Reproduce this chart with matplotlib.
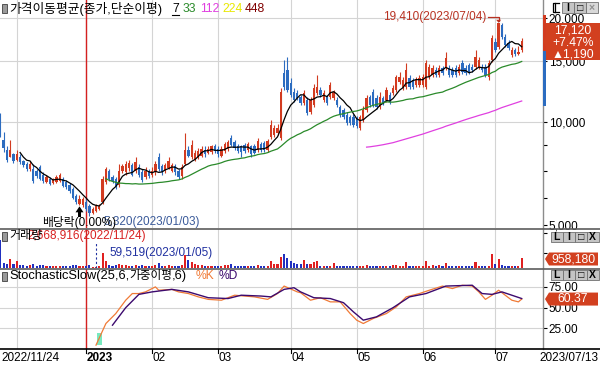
import numpy as np
import pandas as pd
import matplotlib
matplotlib.use('Agg')
import matplotlib.pyplot as plt
from matplotlib.patches import Rectangle, Polygon
from matplotlib.lines import Line2D
from matplotlib.ticker import FixedLocator, NullFormatter, FuncFormatter

plt.rcParams['font.family'] = ['Liberation Sans', 'Noto Sans CJK KR', 'DejaVu Sans']

# ---------------- data ----------------
opens = [
    9930, 8870, 8300, 7920, 8030, 7760, 7920, 7660, 7510, 7260,
    7260, 7170, 7360, 7020, 6660, 6790, 6620, 6660, 6700, 6790,
    6660, 6530, 6360, 6070, 5750, 5710, 5830, 5680, 5420, 5490,
    5560, 5830, 6660, 7170, 6890, 6790, 6530, 7170, 7120, 7310,
    7460, 7170, 7360, 7120, 6890, 7170, 6980, 7120, 7870, 7410,
    7170, 7310, 7210, 7410, 7170, 6930, 7510, 8300, 7920, 7760,
    7920, 7970, 8300, 8130, 8190, 8520, 8350, 7970, 8240, 8350,
    8990, 8750, 8520, 8470, 8580, 8300, 8470, 8520, 8300, 8640,
    8690, 8300, 9050, 9170, 9290, 8990, 13860, 14140, 12970, 12210,
    12130, 11810, 11350, 11580, 10690, 11200, 12130, 12380, 11580, 11810,
    11810, 11730, 11580, 11050, 10830, 10480, 10340, 10340, 10270, 9610,
    10130, 10830, 11810, 12210, 11730, 11050, 11730, 11580, 11970, 12130,
    12380, 13060, 12540, 12630, 13410, 13230, 12800, 12800, 12800, 12630,
    13500, 13680, 14140, 13680, 14330, 14330, 14330, 14140, 14330, 13860,
    14820, 14330, 14620, 14430, 14430, 14430, 14430, 14430, 13500, 15120,
    17050, 16490, 19080, 17620, 16940, 15640, 16170, 15750, 16170]
highs = [
    10620, 9350, 8470, 8870, 8130, 8300, 8030, 7760, 7610, 7660,
    7510, 7260, 7460, 7120, 6980, 6890, 6840, 6980, 7070, 6890,
    6750, 6620, 6440, 6150, 6110, 6030, 5950, 5750, 5640, 5750,
    5750, 6930, 7360, 7260, 7020, 6890, 7510, 7510, 7660, 7760,
    7560, 7870, 7510, 7260, 7360, 7260, 7360, 7660, 8130, 7510,
    7560, 7870, 7560, 7510, 7260, 7510, 9290, 8520, 8870, 8300,
    8410, 8520, 8470, 8470, 8580, 8640, 8470, 8470, 8750, 8870,
    9170, 8870, 8640, 8580, 8690, 8750, 8580, 8640, 8990, 8750,
    8810, 8930, 10130, 9800, 9870, 12540, 15120, 15440, 13410, 12540,
    12380, 11970, 12380, 11810, 11810, 12880, 13680, 12630, 12380, 11970,
    13060, 12380, 11810, 11200, 10980, 10690, 10480, 10550, 10410, 10480,
    11130, 11970, 11970, 12460, 11970, 12210, 11890, 12630, 12210, 12800,
    13680, 13950, 13500, 14820, 13680, 13410, 13500, 13680, 13770, 15120,
    14720, 14620, 14430, 14620, 14520, 15960, 14620, 14430, 14620, 14720,
    15120, 14620, 14820, 14720, 16170, 15440, 14720, 14720, 15120, 17860,
    17510, 19410, 19340, 17970, 17280, 16490, 16380, 16600, 17510]
lows = [
    9050, 8190, 7610, 7870, 7560, 7660, 7510, 7360, 7170, 7210,
    6620, 6840, 6750, 6620, 6620, 6530, 6570, 6620, 6660, 6440,
    6360, 6190, 5950, 5750, 5710, 5640, 5490, 5320, 5380, 5450,
    5530, 5750, 6570, 6700, 6620, 6360, 6440, 7070, 7020, 7210,
    6930, 7070, 6890, 6660, 6790, 6840, 6890, 7020, 7170, 7020,
    7070, 7260, 7120, 7020, 6790, 6790, 7460, 7870, 7810, 7660,
    7810, 7870, 7920, 8030, 8080, 8130, 7920, 7870, 8130, 8240,
    8470, 8300, 8130, 7870, 8130, 8190, 7920, 8030, 8190, 8190,
    8190, 8190, 8930, 9050, 9170, 8870, 12380, 12210, 11810, 11420,
    11580, 11200, 11200, 10480, 10550, 11050, 11970, 11810, 11420, 11200,
    11650, 11580, 11050, 10340, 10200, 9800, 9800, 9670, 9610, 9480,
    10000, 10690, 11050, 11050, 10900, 10900, 11200, 11420, 11270, 11970,
    12210, 12880, 12380, 12460, 12460, 12460, 12630, 12630, 12630, 12460,
    13320, 13500, 13500, 13500, 13680, 14140, 13500, 13500, 13500, 13680,
    13770, 13680, 13770, 13950, 14240, 14240, 13950, 13500, 13230, 14920,
    15960, 16280, 17390, 16490, 16170, 15440, 15540, 15640, 15960]
closes = [
    9170, 8410, 7760, 8300, 7660, 8030, 7610, 7460, 7260, 7510,
    6700, 6930, 6790, 6700, 6890, 6570, 6790, 6890, 6980, 6490,
    6440, 6270, 5990, 5830, 5950, 5950, 5560, 5420, 5560, 5680,
    5680, 6790, 7260, 6790, 6700, 6440, 7170, 7410, 7510, 7560,
    7020, 7610, 6980, 6750, 7210, 6930, 7210, 7510, 7260, 7120,
    7460, 7660, 7460, 7120, 6890, 7360, 8300, 7970, 8580, 8130,
    8240, 8350, 8030, 8350, 8470, 8240, 8030, 8350, 8640, 8750,
    8580, 8410, 8240, 8190, 8240, 8640, 8030, 8130, 8810, 8300,
    8300, 8810, 9800, 9610, 9610, 12210, 12630, 12380, 11970, 11580,
    11730, 11350, 12130, 10620, 11580, 12540, 12630, 11970, 12130, 11350,
    12800, 12210, 11200, 10480, 10340, 9930, 9930, 9800, 9740, 10340,
    10830, 11730, 11200, 11200, 11050, 11810, 11350, 12380, 11420, 12540,
    13500, 13500, 13230, 14140, 12630, 12630, 13230, 13410, 13500, 14820,
    14430, 14330, 13680, 14330, 13860, 15340, 13680, 13680, 13680, 14430,
    13950, 13860, 13950, 14140, 15440, 15120, 14140, 13680, 14820, 17510,
    16170, 19340, 17620, 16710, 16380, 16170, 15750, 15930, 17120]
volumes = [
    2668916, 500000, 420000, 900000, 350000, 700000, 300000, 250000, 200000, 260000,
    380000, 220000, 300000, 250000, 180000, 160000, 170000, 190000, 200000, 220000,
    200000, 230000, 300000, 250000, 200000, 180000, 220000, 260000, 120000, 59519,
    150000, 1450000, 700000, 300000, 200000, 250000, 350000, 280000, 320000, 220000,
    200000, 300000, 220000, 250000, 200000, 160000, 180000, 300000, 450000, 200000,
    180000, 250000, 180000, 150000, 170000, 300000, 1200000, 800000, 600000, 350000,
    250000, 300000, 220000, 180000, 200000, 170000, 160000, 200000, 250000, 260000,
    400000, 220000, 180000, 200000, 150000, 180000, 200000, 150000, 250000, 180000,
    160000, 220000, 700000, 400000, 350000, 1100000, 1300000, 1000000, 700000, 500000,
    400000, 350000, 750000, 350000, 400000, 550000, 650000, 200000, 200000, 180000,
    200000, 450000, 150000, 150000, 150000, 220000, 150000, 150000, 150000, 180000,
    150000, 300000, 150000, 150000, 150000, 160000, 150000, 170000, 150000, 280000,
    280000, 180000, 150000, 600000, 150000, 150000, 150000, 160000, 150000, 700000,
    200000, 300000, 150000, 300000, 150000, 450000, 150000, 150000, 150000, 150000,
    150000, 150000, 150000, 150000, 550000, 200000, 180000, 150000, 200000, 1300000,
    400000, 900000, 300000, 150000, 150000, 150000, 150000, 150000, 958180]

first_date = '2022/11/24'
last_date = '2023/07/13'
hi_date = '2023/07/04'
lo_date = '2023/01/03'
vmax_date = '2022/11/24'
vmin_date = '2023/01/05'
div_idx = 24
div_text = '배당락(0.00%)'

# Stochastic Slow (25,6,weighted,6) values
k_idx = [29, 32, 35, 38, 40, 42, 44, 47, 48, 52, 54, 57, 60, 63, 67, 71, 77, 81, 84, 86,
         90, 91, 94, 97, 100, 103, 106, 108, 110, 113, 117, 120, 123, 127, 130, 134, 137,
         140, 143, 145, 147, 149, 151, 155, 157, 158]
k_vals = [5, 31, 43, 59, 67, 67, 69, 75, 71, 72, 69, 67, 63, 60, 59, 65, 63, 60, 67, 76,
          69, 68, 59, 62, 57, 57, 43, 35, 31, 37, 43, 51, 63, 67, 71, 76, 73,
          77, 76, 69, 60, 65, 71, 59, 57, 60.37]
d_idx = [34, 38, 42, 46, 52, 57, 63, 69, 73, 79, 82, 86, 89, 91, 95, 100, 104, 107, 110,
         114, 119, 124, 129, 135, 143, 146, 149, 152, 158]
d_vals = [29, 50, 66, 69, 72, 69, 62, 61, 65, 64, 63, 72, 74, 69, 62, 61, 56, 45, 35,
          39, 50, 63, 67, 76, 77, 67, 66, 69, 61]

month_idx = [5, 26, 46, 66, 88, 108, 128, 150]
month_labels = ['', '2023', '02', '03', '04', '05', '06', '07']
year_idx = 26
ma_periods = [7, 33, 112, 224, 448]
ma_colors = ['#000000', '#2a8a2a', '#e040e0', '#e8e800', '#800000']
price_ticks = [5000, 10000, 15000, 20000]
price_minor = [5990, 7170, 8580]
stoch_ticks = [25, 50, 75]

# ---------------- figure ----------------
W, H = 600, 366
fig = plt.figure(figsize=(W / 100, H / 100), dpi=100)
fig.patch.set_facecolor('white')


def add_ax(x0, y0, x1, y1, **kw):
    return fig.add_axes([x0 / W, 1 - y1 / H, (x1 - x0) / W, (y1 - y0) / H], **kw)


ax = add_ax(0, 0, 543, 228)
axv = add_ax(0, 229, 543, 268)
axs = add_ax(0, 269, 543, 349)
ov = add_ax(0, 0, 600, 366, zorder=10)
ov.set_xlim(0, W)
ov.set_ylim(H, 0)
ov.axis('off')
ov.patch.set_alpha(0)

n = len(closes)
assert all(len(a) == n for a in (opens, highs, lows, volumes))
idx = np.arange(n)
O = np.array(opens, float)
Hh = np.array(highs, float)
L = np.array(lows, float)
C = np.array(closes, float)
V = np.array(volumes, float)
up = C >= O

RED = '#d23b20'
BLUE = '#2c6cc0'
GRID = '#d4d4d4'
XMIN, XMAX = -0.09, 164.45

for a in (ax, axv, axs):
    a.set_xlim(XMIN, XMAX)
    a.set_facecolor('white')
    for s in ('top', 'left', 'bottom'):
        a.spines[s].set_visible(False)
    a.spines['right'].set_color('#8c8c8c')
    a.spines['right'].set_linewidth(1.0)
    a.tick_params(axis='x', which='both', bottom=False, labelbottom=False)
    a.yaxis.tick_right()
    a.tick_params(axis='y', which='both', direction='out', length=3, width=0.8,
                  pad=1, labelsize=8.5, colors='black')
    for m in month_idx:
        a.axvline(m, color=GRID, lw=0.8, zorder=0)
    a.axvline(year_idx, color='#d42020', lw=1.0, zorder=1)

# ---- price panel ----
ax.set_yscale('log')
ax.set_ylim(4905, 22610)
ax.yaxis.set_major_locator(FixedLocator(price_ticks))
ax.yaxis.set_major_formatter(FuncFormatter(lambda v, p: f'{int(round(v)):,}'))
ax.yaxis.set_minor_locator(FixedLocator(price_minor))
ax.yaxis.set_minor_formatter(NullFormatter())
for t in price_ticks[1:]:
    ax.axhline(t, color=GRID, lw=0.8, zorder=0)

cols = np.where(up, RED, BLUE)
ax.vlines(idx, L, Hh, colors=cols, lw=0.8, zorder=3)
ax.bar(idx, np.abs(C - O), bottom=np.minimum(O, C), width=0.72, color=cols,
       lw=0, zorder=4)

cs = pd.Series(C)
for p, col in zip(ma_periods, ma_colors):
    ma = cs.rolling(p).mean()
    ax.plot(idx, ma, color=col, lw=0.9, zorder=5)

# ---- volume panel ----
axv.set_ylim(0, 3.74e6)
axv.yaxis.set_major_locator(FixedLocator([1.44e6, 3.36e6]))
axv.yaxis.set_major_formatter(NullFormatter())
vcols = np.where(up, '#e02020', '#2030c0')
axv.bar(idx, V, width=0.62, color=vcols, lw=0, zorder=3)
vmin_i = int(np.argmin(V))
vmax_i = int(np.argmax(V))
axv.vlines(vmin_i, 0, 2.4e6, colors='#2030a0', lw=0.8, linestyles=(0, (2, 2)), zorder=4)

# ---- stochastic panel ----
axs.set_ylim(0.36, 96.5)
axs.yaxis.set_major_locator(FixedLocator(stoch_ticks))
axs.yaxis.set_major_formatter(FuncFormatter(lambda v, p: f'{v:.2f}'))
for t in stoch_ticks:
    axs.axhline(t, color=GRID, lw=0.8, zorder=0)
axs.add_patch(Rectangle((k_idx[0] + 0.2, 5), 1.6, 14, color='#78eac0', lw=0, zorder=2))
axs.plot(k_idx, k_vals, color='#f07a36', lw=0.9, zorder=4)
axs.plot(d_idx, d_vals, color='#3c0a6e', lw=1.0, zorder=5)

# ---- separators ----
for yy, col, lw in ((228.5, '#5c5c5c', 1.2), (268.5, '#5c5c5c', 1.2), (349, '#000000', 1.2)):
    ov.add_line(Line2D([0, 600], [yy, yy], color=col, lw=lw))


def data_px(a, x, y):
    d = a.transData.transform((x, y))
    return d[0], H - d[1]


renderer = fig.canvas.get_renderer()


def chain(x, y, parts):
    """Draw text segments one after another; parts = [(text, size, color)]."""
    for s, size, col in parts:
        t = ov.text(x, y, s, fontsize=size, va='center', ha='left', color=col)
        bb = t.get_window_extent(renderer)
        x = bb.x1
    return x


# ---- header texts ----
def icon(y):
    ov.add_patch(Rectangle((2, y - 4.5), 5, 9, facecolor='#9a9a9a', edgecolor='#404040', lw=0.6))


icon(8.5)
ov.text(9, 8.5, '가격이동평균(종가,단순이평)', fontsize=9.2, va='center', ha='left')
xs = [172, 183, 200, 222, 245]
for xx, p, col in zip(xs, ma_periods, ma_colors):
    ov.text(xx, 8.5, str(p), fontsize=8.7, va='center', ha='left', color=col)
ov.add_line(Line2D([172, 179], [14.5, 14.5], color='black', lw=0.8))

icon(236.5)
ov.text(27, 236.5, f'{volumes[vmax_i]:,}({vmax_date})', fontsize=8.5, va='center',
        ha='left', color='#d82020')
ov.text(9, 236.5, '거래량', fontsize=8.7, va='center', ha='left', color='black')
ov.text(109, 253, f'{volumes[vmin_i]:,}({vmin_date})', fontsize=8.5, va='center',
        ha='left', color='#2030a0')

icon(276)
chain(9, 276, [('StochasticSlow(25,6,', 9.3, 'black'), ('가중이평', 8.4, 'black'),
               (',6)', 9.3, 'black')])
ov.text(196, 276, '%K', fontsize=8.7, va='center', ha='left', color='#f07a36')
ov.text(219, 276, '%D', fontsize=8.7, va='center', ha='left', color='#3c0a6e')

# ---- high / low / dividend annotations ----
hi_i = int(np.argmax(Hh))
hx, hy = data_px(ax, hi_i, Hh[hi_i])
ov.text(hx - 12, hy - 5.5, f'{highs[hi_i]:,}({hi_date})', fontsize=8.5, va='center',
        ha='right', color='#b83222')
ov.add_line(Line2D([hx - 11, hx, hx], [hy - 5.5, hy - 5.5, hy - 2], color='#b83222', lw=0.9))
ov.add_patch(Polygon([(hx - 2.5, hy - 3), (hx + 2.5, hy - 3), (hx, hy)], color='#b83222', lw=0))

lo_i = int(np.argmin(L))
lx, ly = data_px(ax, lo_i, L[lo_i])
ov.text(200, 222, f'{lows[lo_i]:,}({lo_date})', fontsize=8.5, va='center', ha='right',
        color='#3a5a9a')
dx, dy = data_px(ax, div_idx, L[div_idx])
ov.add_patch(Polygon([(dx - 4, dy + 7), (dx + 4, dy + 7), (dx, dy + 1)], color='black', lw=0))
ov.add_patch(Rectangle((dx - 1.5, dy + 7), 3, 5, color='black', lw=0))
ov.text(dx, 222.5, div_text, fontsize=8.5, va='center', ha='center', color='black')

# ---- right side widgets ----
ov.add_patch(Rectangle((543, 15), 3, 36, color=RED, lw=0))
ov.add_patch(Rectangle((543, 51), 3, 55, color=BLUE, lw=0))
cx, cy = data_px(ax, idx[-1], C[-1])
BOX = '#d2401f'
ov.add_patch(Polygon([(546, 23), (600, 23), (600, 60), (546, 60), (546, cy + 5),
                      (543, cy), (546, cy - 5)], color=BOX, lw=0))
chg = closes[-1] - closes[-2]
pct = chg / closes[-2] * 100
ov.text(573, 30.5, f'{closes[-1]:,}', fontsize=8.7, color='white', ha='center', va='center')
ov.text(573, 43, f'+{pct:.2f}%', fontsize=8.7, color='white', ha='center', va='center')
ov.text(573, 54.5, f'▲{chg:,}', fontsize=8.7, color='white', ha='center', va='center')

vy = 259
ov.add_patch(Polygon([(549, vy - 6.5), (598, vy - 6.5), (598, vy + 6.5), (549, vy + 6.5),
                      (545, vy)], color=BOX, lw=0))
ov.text(573, vy, f'{volumes[-1]:,}', fontsize=8.7, color='white', ha='center', va='center')
_, sy = data_px(axs, idx[-1], k_vals[-1])
ov.add_patch(Polygon([(549, sy - 6.5), (598, sy - 6.5), (598, sy + 6.5), (549, sy + 6.5),
                      (545, sy)], color=BOX, lw=0))
ov.text(573, sy, f'{k_vals[-1]:.2f}', fontsize=8.7, color='white', ha='center', va='center')


def button(x0, y0, w, h, label, fc='#c4c4c4', tc='black'):
    ov.add_patch(Rectangle((x0, y0), w, h, facecolor=fc, edgecolor='#707070', lw=0.6))
    ov.text(x0 + w / 2, y0 + h / 2 + 0.3, label, fontsize=7.5, ha='center', va='center',
            color=tc, fontweight='bold')


ov.add_line(Line2D([558.5, 552.5, 552.5, 558.5], [2.5, 2.5, 11.5, 11.5], color='black', lw=0.9))
ov.add_line(Line2D([554.5, 554.5], [2.5, 11.5], color='black', lw=0.9))
button(562, 2, 11.5, 10.5, 'I')
button(574, 2, 11.5, 10.5, '□')
button(586, 2, 11.5, 10.5, '×', fc='#d8d8d8', tc='#909090')
for by in (231.5, 270):
    button(551, by, 11.5, 10, 'L')
    button(563, by, 11.5, 10, 'I')
    button(575, by, 11.5, 10, '□')
    button(587, by, 11.5, 10, 'X')

# ---- date strip ----
ov.text(1, 358, first_date, fontsize=8.5, ha='left', va='center')
for m, lab in zip(month_idx, month_labels):
    if not lab:
        continue
    mx, _ = data_px(axs, m, 50)
    ov.add_line(Line2D([mx, mx], [349, 353], color='black', lw=0.8))
    ov.text(mx + 0.5, 358, lab, fontsize=8.5, ha='left', va='center',
            fontweight='bold' if lab == '2023' else 'normal')
ov.text(598, 358, last_date, fontsize=8.5, ha='right', va='center')

fig.savefig('out.png', dpi=100)
